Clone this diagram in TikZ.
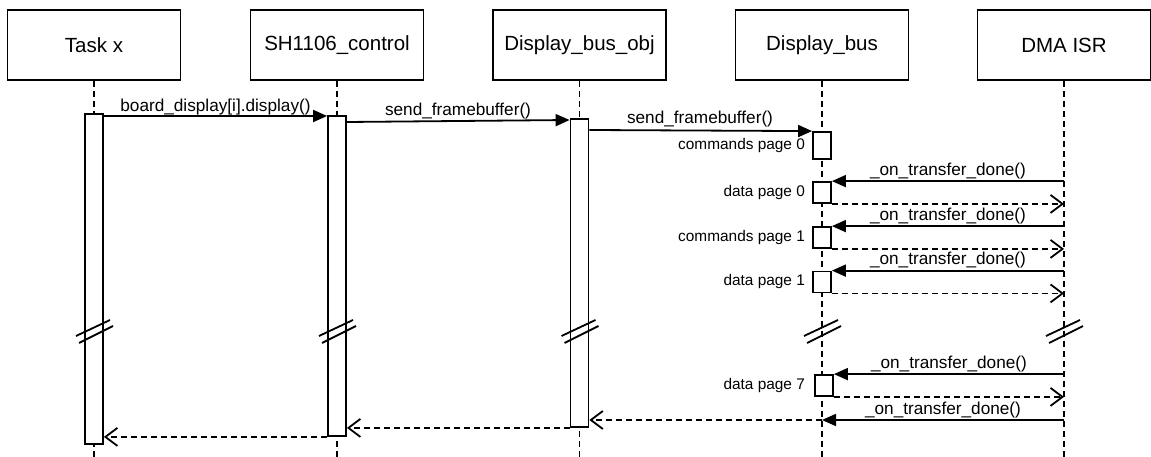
\documentclass[tikz,border=0pt]{standalone}
\usepackage{fontspec}
\setmainfont{Liberation Sans}
\usetikzlibrary{arrows.meta}
\begin{document}
\begin{tikzpicture}[x=1pt,y=-1pt,
  lw/.style={line width=1.8pt},
  head/.style={draw, lw, minimum width=173pt, minimum height=70pt, inner sep=0pt, font=\fontsize{20.5}{24}\selectfont},
  life/.style={lw, dash pattern=on 6pt off 4pt},
  actbar/.style={draw, lw, fill=white, minimum width=18pt, inner sep=0pt},
  msg/.style={lw, -{Triangle[length=14pt,width=12pt]}},
  ret/.style={lw, dash pattern=on 6pt off 4pt, -{Straight Barb[length=12pt,width=18pt]}},
  mlbl/.style={font=\fontsize{17.2}{20}\selectfont, anchor=base, inner sep=0pt},
  slbl/.style={font=\fontsize{15.4}{18}\selectfont, anchor=east, inner sep=0pt},
  brk/.style={lw}
]
\useasboundingbox (0,0) rectangle (1151,457);
\coordinate (bot) at (0,457);
% heads
\node[head] (h1) at (94,45) {Task x};
\node[head] (h2) at (337,45) {SH1106\_control};
\node[head] (h3) at (579.5,45) {Display\_bus\_obj};
\node[head] (h4) at (822,45) {Display\_bus};
\node[head] (h5) at (1064,45) {DMA ISR};
% lifelines
\foreach \h in {h1,h2,h3,h4,h5} \draw[life] (\h.south) -- (\h.south |- bot);
% activation bars
\node[actbar, minimum height=330pt] (tb) at (94,279) {};
\node[actbar, minimum height=320pt] (sb) at (337,276) {};
\node[actbar, minimum height=308pt] (ob) at (579.5,273) {};
\node[actbar, minimum height=27pt] (b0) at (822,145.5) {};
\node[actbar, minimum height=21pt] (b1) at (822,192.5) {};
\node[actbar, minimum height=21pt] (b2) at (822,237.5) {};
\node[actbar, minimum height=21pt] (b3) at (822,282) {};
\node[actbar, minimum height=21pt] (b7) at (824,385.5) {};
% calls
\draw[msg] (tb.east |- 0,116) -- (sb.west |- 0,116);
\node[mlbl] (l1) at (215.5,112) {board\_display[i].display()};
\draw[msg] (sb.east |- 0,122) -- (ob.west |- 0,120);
\node[mlbl] (l2) at (458,115.5) {send\_framebuffer()};
\draw[msg] (ob.east |- 0,130) -- (b0.north west);
\node[mlbl] (l3) at (700,123.5) {send\_framebuffer()};
% side labels
\node[slbl] (c0) at ([xshift=-7pt]b0.west) {commands page 0};
\node[slbl] (d0) at ([xshift=-7pt]b1.west) {data page 0};
\node[slbl] (c1) at ([xshift=-7pt]b2.west) {commands page 1};
\node[slbl] (d1) at ([xshift=-7pt]b3.west) {data page 1};
\node[slbl] (d7) at ([xshift=-9pt]b7.west) {data page 7};
% transfers
\foreach \b in {b1,b2,b3,b7} {
  \draw[msg] (h5.south |- \b.north east) -- node[mlbl, midway, yshift=6pt] (t\b) {\_on\_transfer\_done()} (\b.north east);
  \draw[ret] (\b.south east) -- (h5.south |- \b.south east);
}
\draw[msg] (h5.south |- 0,420) -- node[mlbl, midway, yshift=6pt] (t8) {\_on\_transfer\_done()} (h4.south |- 0,420);
% returns
\draw[ret] (h4.south |- 0,420) -- (ob.east |- 0,420);
\draw[ret] (ob.south west) -- (sb.east |- ob.south west);
\draw[ret] (sb.south west) -- (tb.east |- sb.south west);
% breaks
\foreach \h in {h1,h2,h3,h4,h5} {
  \draw[brk] (\h.south |- 0,336) ++(-18,0) -- ++(34,-16);
  \draw[brk] (\h.south |- 0,343) ++(-15,0) -- ++(34,-17);
}
\end{tikzpicture}
\end{document}
